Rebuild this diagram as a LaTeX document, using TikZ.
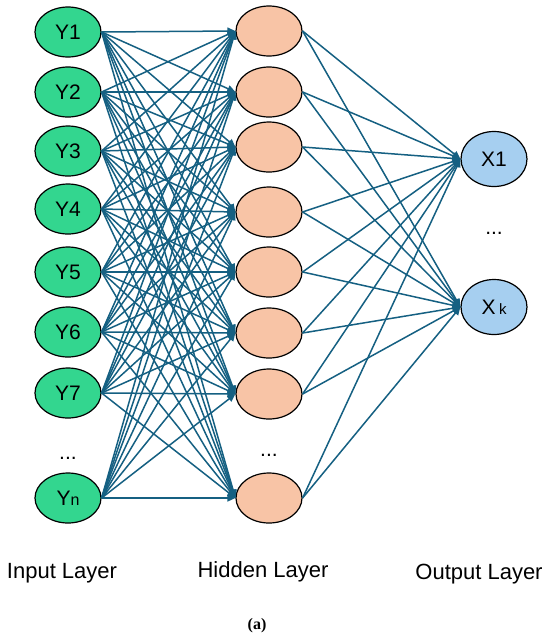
\documentclass[tikz,border=0pt]{standalone}
\usepackage{fontspec}
\setmainfont{Liberation Sans}
\newfontfamily\capfont{Liberation Serif}
\usetikzlibrary{shapes.geometric,arrows.meta}
\definecolor{edgec}{HTML}{156082}
\definecolor{greenc}{HTML}{33D68F}
\definecolor{salmonc}{HTML}{F8C4A6}
\definecolor{bluec}{HTML}{A6CFF0}
\begin{document}
\begin{tikzpicture}[x=1pt,y=-1pt,
  neuron/.style={ellipse,draw=black,line width=1.2pt,minimum width=66pt,minimum height=50pt,inner sep=0pt,font=\fontsize{21}{21}\selectfont},
  inp/.style={neuron,fill=greenc},
  hid/.style={neuron,fill=salmonc},
  outp/.style={neuron,fill=bluec,minimum height=55pt},
  conn/.style={draw=edgec,line width=1.5pt,-{Triangle[length=8pt,width=7pt]}},
  lbl/.style={font=\fontsize{22}{22}\selectfont},
  dots/.style={font=\fontsize{21}{21}\selectfont,inner sep=0pt}]
\useasboundingbox (0,0) rectangle (550,638);
\fill[white] (0,0) rectangle (550,638);
% input layer
\foreach \n/\y/\t in {1/32/Y1,2/92/Y2,3/151/Y3,4/209/Y4,5/272/Y5,6/332/Y6,7/393/Y7}
  \node[inp] (i\n) at (68,\y) {\t};
\node[inp] (i8) at (68,498) {Y{\fontsize{16}{16}\selectfont n}};
\node[dots] (idots) at (68,458) {...};
% hidden layer
\foreach \n/\y in {1/31,2/92,3/147,4/212,5/272,6/333,7/394,8/498}
  \node[hid] (h\n) at (269,\y) {};
\node[dots] (hdots) at (269,455) {...};
% output layer
\node[outp] (o1) at (494,159) {X1};
\node[outp] (o2) at (494,307) {X\,{\fontsize{15}{15}\selectfont k}};
\node[dots] (odots) at (494,233) {...};
% connections
\foreach \i in {1,...,8}
  \foreach \j in {1,...,8}
    \draw[conn] (i\i.east) -- (h\j.west);
\foreach \j in {1,...,8}
  \foreach \k in {1,2}
    \draw[conn] (h\j.east) -- (o\k.west);
% labels
\node[lbl] (linp) at (62,573) {Input Layer};
\node[lbl] (lhid) at (263,572) {Hidden Layer};
\node[lbl] (lout) at (479,574) {Output Layer};
\node[font=\capfont\bfseries\fontsize{16}{16}\selectfont] (cap) at (257,626) {(a)};
\end{tikzpicture}
\end{document}
